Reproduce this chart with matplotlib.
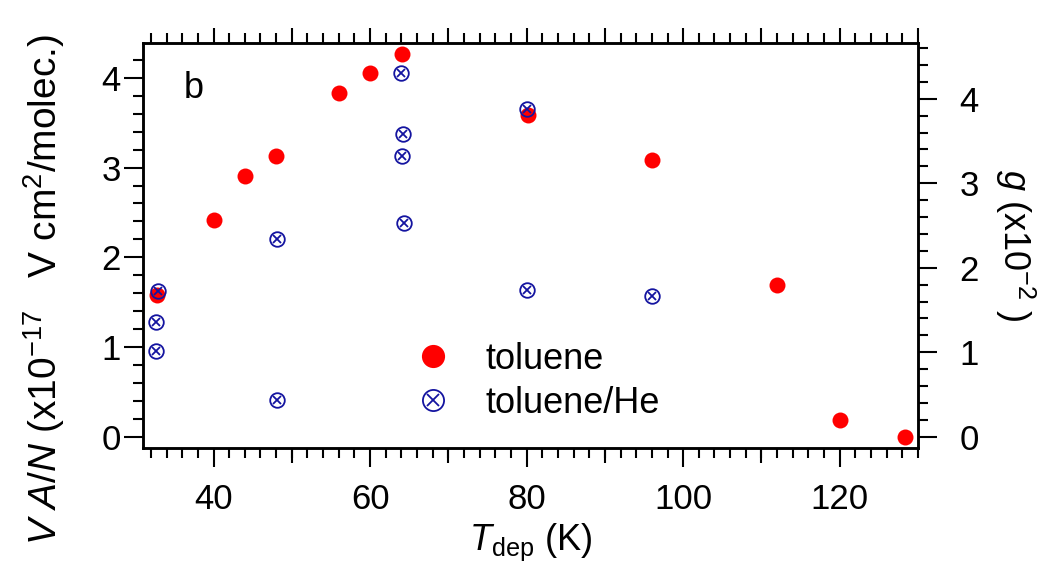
import numpy as np
import matplotlib.pyplot as plt
from matplotlib.ticker import MultipleLocator, FixedLocator
from matplotlib.legend_handler import HandlerTuple

plt.rcParams['font.family'] = ['Liberation Sans', 'DejaVu Sans']
plt.rcParams['mathtext.fontset'] = 'custom'
plt.rcParams['mathtext.rm'] = 'Liberation Sans'
plt.rcParams['mathtext.it'] = 'Liberation Sans:italic'

# toluene, V A/N (x1e-17 V cm2/molec.) -- left axis
tol_T = [32.8, 40.1, 44.0, 48.0, 56.0, 60.0, 64.1, 80.2, 96.0, 112.0, 120.0, 128.4]
tol_val = [1.58, 2.42, 2.91, 3.13, 3.83, 4.06, 4.27, 3.59, 3.09, 1.69, 0.18, 0.00]

# toluene/He, g (x1e-2) -- right axis
he_T = [32.9, 32.6, 32.6, 48.1, 48.1, 64.0, 64.2, 64.1, 64.3, 80.1, 80.1, 96.0]
he_g = [1.72, 1.36, 1.02, 2.34, 0.43, 4.31, 3.58, 3.32, 2.53, 3.88, 1.74, 1.67]

red = '#ff0000'
blue = '#1414a0'
fs = 25

fig = plt.figure(figsize=(10.52, 5.65), dpi=100)
ax = fig.add_axes([0.136, 0.207, 0.7366, 0.7169])
ax2 = ax.twinx()

p1, = ax.plot(tol_T, tol_val, 'o', color=red, ms=11.5, mew=0, zorder=3)
c1, = ax2.plot(he_T, he_g, 'o', mfc='none', mec=blue, ms=10.5, mew=1.3, zorder=4)
c2, = ax2.plot(he_T, he_g, 'x', color=blue, ms=5.5, mew=1.3, zorder=4)

ax.set_xlim(31, 130)
ax.set_ylim(-0.128, 4.39)
ax2.set_ylim(-0.134, 4.66)

# bottom ticks: major 20, minor 2, medium ticks at the odd tens
ax.xaxis.set_major_locator(MultipleLocator(20))
ax.xaxis.set_minor_locator(MultipleLocator(2))
ax.yaxis.set_major_locator(MultipleLocator(1))
ax.yaxis.set_minor_locator(MultipleLocator(0.2))
ax2.yaxis.set_major_locator(MultipleLocator(1))
ax2.yaxis.set_minor_locator(MultipleLocator(0.2))

ax.tick_params(which='major', direction='out', length=14, width=1.5, labelsize=fs)
ax.tick_params(which='minor', direction='out', length=7.5, width=1.5)
ax.tick_params(axis='x', which='major', pad=11)
ax.tick_params(axis='y', which='major', pad=2)
ax2.tick_params(axis='y', which='major', direction='out', length=14, width=1.5,
                labelsize=fs, pad=16)
ax2.tick_params(axis='y', which='minor', direction='out', length=7.5, width=1.5)

mid = ax.secondary_xaxis('bottom')
mid.xaxis.set_major_locator(FixedLocator([50, 70, 90, 110]))
mid.tick_params(direction='out', length=11, width=1.5, labelbottom=False)
mid.spines['bottom'].set_visible(False)

top = ax.secondary_xaxis('top')
top.xaxis.set_major_locator(MultipleLocator(10))
top.xaxis.set_minor_locator(MultipleLocator(2))
top.tick_params(which='major', direction='out', length=11, width=1.5, labeltop=False)
top.tick_params(which='minor', direction='out', length=7.5, width=1.5)
top.spines['top'].set_visible(False)

for a in (ax, ax2):
    for s in a.spines.values():
        s.set_linewidth(1.8)

ax.set_xlabel(r'$T_{\rm dep}$ (K)', fontsize=26, labelpad=4)
ax.set_ylabel(r'$V$ $A/N$ (x10$^{-17}$   V cm$^2$/molec.)', fontsize=28)
ax.yaxis.set_label_coords(-0.098, 0.39)
ax2.set_ylabel(r'$g$ (x10$^{-2}$ )', fontsize=26, rotation=-90, ha='center', va='center')
ax2.yaxis.set_label_coords(1.125, 0.5)

ax.text(0.052, 0.865, 'b', transform=ax.transAxes, fontsize=26)

ax.legend([p1, (c1, c2)], ['toluene', 'toluene/He'],
          handler_map={tuple: HandlerTuple(ndivide=1)},
          loc='center left', bbox_to_anchor=(0.351, 0.165), frameon=False,
          borderaxespad=0, borderpad=0, markerscale=1.45,
          fontsize=26, handlelength=1.0, handletextpad=0.94, labelspacing=0.25)

fig.savefig('out.png', dpi=100)
